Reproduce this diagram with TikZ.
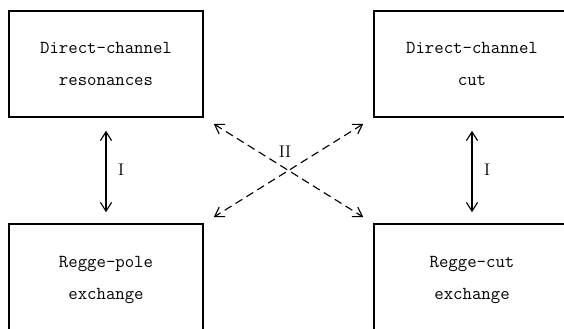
\documentclass[tikz,border=0pt]{standalone}
\usetikzlibrary{arrows.meta}

\begin{document}
\begin{tikzpicture}[x=0.025cm, y=-0.025cm,
        every node/.style={font=\fontsize{13}{22.5}\selectfont\ttfamily},
        kasten/.style={draw, line width=0.8pt, minimum width=4.85cm,
                       minimum height=2.65cm, align=center},
        unten/.style={kasten, minimum height=2.8cm},
        rechts/.style={minimum width=4.9cm},
        pfeil/.style={line width=0.8pt,
                      {Straight Barb[length=2.2mm,width=2.8mm]}-{Straight Barb[length=2.2mm,width=2.8mm]}},
        kreuz/.style={pfeil, dash pattern=on 0.2cm off 0.12cm,
                      shorten <=0.3cm, shorten >=0.3cm},
        senkrecht/.style={pfeil, shorten <=0.33cm, shorten >=0.28cm},
        marke/.style={font=\fontsize{12}{14}\selectfont\rmfamily}
    ]
        \useasboundingbox (0,0) rectangle (564,328);
        \clip (0,0) rectangle (564,328);

        \node[kasten]        (dr) at (106, 64) {Direct-channel\\resonances};
        \node[kasten,rechts] (dc) at (472, 64) {Direct-channel\\cut};
        \node[unten]         (rp) at (106,280) {Regge-pole\\exchange};
        \node[unten,rechts]  (rc) at (472,280) {Regge-cut\\exchange};

        \draw[senkrecht] (dr) -- (rp);
        \draw[senkrecht] (dc) -- (rc);
        \node[marke] (i1) at (121,170) {I};
        \node[marke] (i2) at (487,170) {I};

        \draw[kreuz] (dr.south east) -- (rc.north west);
        \draw[kreuz] (dc.south west) -- (rp.north east);
        \node[marke] (ii) at (285,152) {II};
    \end{tikzpicture}
\end{document}
